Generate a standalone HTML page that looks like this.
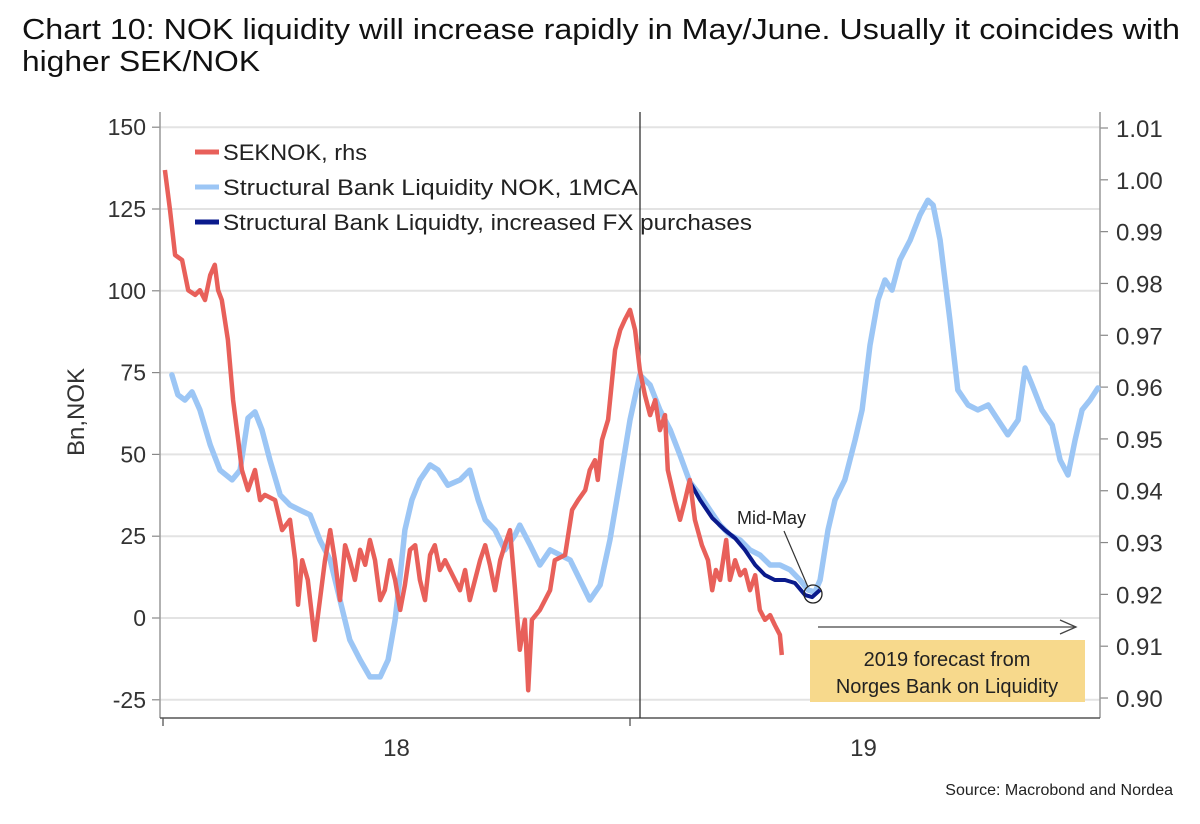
<!DOCTYPE html>
<html><head><meta charset="utf-8"><style>
html,body{margin:0;padding:0;background:#fff;}
svg{display:block;font-family:"Liberation Sans",sans-serif;}
</style></head><body>
<svg id="chart" width="1200" height="824" viewBox="0 0 1200 824" xmlns="http://www.w3.org/2000/svg">
<text x="22" y="39" font-size="29" fill="#111" textLength="1158" lengthAdjust="spacingAndGlyphs">Chart 10: NOK liquidity will increase rapidly in May/June. Usually it coincides with</text>
<text x="22" y="71" font-size="29" fill="#111" textLength="238" lengthAdjust="spacingAndGlyphs">higher SEK/NOK</text>
<g id="grid"></g>
<g id="axes"></g>
<g id="series"></g>
<text transform="translate(84,412) rotate(-90)" text-anchor="middle" font-size="24" fill="#333">Bn,NOK</text>
<g>
<line x1="195" y1="152" x2="219" y2="152" stroke="#e8605a" stroke-width="5"/>
<text x="223" y="160" font-size="22" fill="#222" textLength="144" lengthAdjust="spacingAndGlyphs">SEKNOK, rhs</text>
<line x1="195" y1="187" x2="219" y2="187" stroke="#9cc6f5" stroke-width="5"/>
<text x="223" y="195" font-size="22" fill="#222" textLength="415" lengthAdjust="spacingAndGlyphs">Structural Bank Liquidity NOK, 1MCA</text>
<line x1="195" y1="222" x2="219" y2="222" stroke="#0a1a8c" stroke-width="5"/>
<text x="223" y="230" font-size="22" fill="#222" textLength="529" lengthAdjust="spacingAndGlyphs">Structural Bank Liquidty, increased FX purchases</text>
</g>
<g>
<text x="737" y="524" font-size="18" fill="#222">Mid-May</text>
<line x1="784" y1="531" x2="808" y2="587" stroke="#333" stroke-width="1.2"/>
<circle cx="813" cy="594" r="9" fill="none" stroke="#222" stroke-width="1.3"/>
</g>
<g>
<line x1="818" y1="627" x2="1076" y2="627" stroke="#444" stroke-width="1.3"/>
<polyline points="1060,620 1076,627 1060,634" fill="none" stroke="#444" stroke-width="1.3"/>
<rect x="810" y="640" width="275" height="62" fill="#f7d98c"/>
<text x="947" y="666" text-anchor="middle" font-size="20" fill="#222">2019 forecast from</text>
<text x="947" y="693" text-anchor="middle" font-size="20" fill="#222">Norges Bank on Liquidity</text>
</g>
<text x="1173" y="795" text-anchor="end" font-size="16" fill="#222">Source: Macrobond and Nordea</text>
</svg>
<script>
const leftTicks = [150,125,100,75,50,25,0,-25];
const rightTicks = [1.01,1.00,0.99,0.98,0.97,0.96,0.95,0.94,0.93,0.92,0.91,0.90];
const yearLabels = ["18","19"];
const blueT = [.019,.032,.047,.062,.079,.101,.122,.148,.165,.182,.197,.212,.229,.251,.272,.293,.315,.336,.358,.379,.400,.422,.443,.465,.482,.497,.508,.518,.533,.550,.572,.589,.610,.636,.657,.675,.690,.711,.732,.754,.764,.786,.807,.829,.850,.872,.893,.914,.936,.957,.979,1.0,1.021,1.043,1.064,1.086,1.107,1.128,1.150,1.171,1.193,1.214,1.236,1.257,1.278,1.300,1.321,1.343,1.364,1.381,1.396,1.407,1.424,1.439,1.460,1.482,1.497,1.514,1.531,1.546,1.561,1.578,1.600,1.621,1.638,1.649,1.664,1.685,1.702,1.724,1.745,1.767,1.788,1.809,1.831,1.846,1.861,1.882,1.904,1.921,1.938,1.953,1.968,1.985,2.002];
const blueV = [74.3,68.2,66.6,69.1,63.6,52.9,45.2,42.2,45.2,61.1,63.0,57.5,48.3,37.6,34.5,33.0,31.5,23.8,17.7,5.5,-6.7,-12.8,-18.0,-18.0,-12.8,-0.6,13.1,26.9,36.1,42.2,46.8,45.2,40.6,42.2,45.2,36.1,30.0,26.9,20.8,25.4,28.4,22.3,16.2,20.8,19.3,17.7,11.6,5.5,10.1,23.8,42.2,60.5,74.3,71.2,63.6,57.5,49.8,41.6,37.6,33.0,28.4,25.4,23.8,20.8,19.3,16.2,16.2,14.7,11.6,8.6,7.9,11.6,26.9,36.1,42.2,54.4,63.6,83.4,97.2,103.3,100.2,109.4,115.5,123.2,127.7,126.2,115.5,91.1,69.7,65.1,63.6,65.1,60.5,56.0,60.5,76.4,71.2,63.6,59.0,48.3,43.7,54.4,63.6,66.6,70.3];
const redT = [.004,.015,.026,.041,.054,.069,.079,.090,.101,.111,.118,.126,.139,.150,.161,.169,.182,.197,.208,.218,.240,.255,.272,.283,.289,.298,.310,.325,.336,.347,.358,.368,.379,.390,.400,.411,.422,.433,.443,.454,.465,.475,.486,.497,.508,.518,.529,.540,.550,.561,.572,.582,.593,.604,.625,.636,.647,.657,.668,.679,.690,.700,.711,.722,.732,.743,.754,.764,.775,.782,.790,.807,.818,.829,.839,.861,.876,.889,.904,.914,.925,.931,.940,.953,.968,.979,.989,1.0,1.011,1.021,1.032,1.043,1.054,1.064,1.075,1.081,1.096,1.107,1.118,1.128,1.139,1.154,1.167,1.176,1.184,1.193,1.206,1.214,1.225,1.236,1.246,1.257,1.268,1.278,1.289,1.300,1.310,1.321,1.325];
const redV = [1.0019,.9942,.9855,.9845,.9787,.9778,.9787,.9768,.9816,.9836,.9787,.9768,.9691,.9575,.9498,.9440,.9401,.9440,.9382,.9392,.9382,.9324,.9344,.9266,.9180,.9266,.9228,.9112,.9189,.9266,.9324,.9266,.9189,.9295,.9266,.9228,.9286,.9257,.9305,.9266,.9189,.9208,.9266,.9228,.9170,.9218,.9286,.9295,.9228,.9189,.9276,.9295,.9247,.9266,.9228,.9208,.9247,.9189,.9228,.9266,.9295,.9257,.9208,.9266,.9295,.9324,.9208,.9093,.9151,.9015,.9151,.9170,.9189,.9208,.9266,.9276,.9363,.9382,.9401,.9440,.9459,.9421,.9498,.9537,.9672,.9710,.9730,.9749,.9710,.9633,.9585,.9546,.9575,.9517,.9546,.9440,.9382,.9344,.9382,.9421,.9344,.9295,.9266,.9208,.9247,.9228,.9305,.9228,.9266,.9237,.9247,.9208,.9237,.9170,.9151,.9160,.9141,.9122,.9083];
const darkT = [1.128,1.150,1.176,1.203,1.225,1.246,1.268,1.289,1.310,1.332,1.353,1.375,1.390,1.407];
const darkV = [41.6,36.1,30.6,26.9,24.4,20.8,16.2,13.1,11.6,11.6,10.7,7.0,6.4,8.6];

const NS = "http://www.w3.org/2000/svg";
const X0 = 163, PXYR = 467;
const xS = t => X0 + t * PXYR;
const yL = v => 618 - v * 3.272;
const yR = v => 128 + (1.01 - v) * 5182;
function mk(tag, attrs, parent){const e=document.createElementNS(NS,tag);for(const k in attrs)e.setAttribute(k,attrs[k]);parent.appendChild(e);return e;}
const grid=document.getElementById('grid'), axes=document.getElementById('axes'), series=document.getElementById('series');

leftTicks.forEach(v=>{
  const y=yL(v);
  const g=mk('line',{x1:160,x2:1100,y1:y,y2:y,stroke:'#e3e3e3','stroke-width':2},grid);
  
  
  const tk=mk('line',{x1:152,x2:160,y1:y,y2:y,stroke:'#888','stroke-width':1.2},axes);
  
  
  const tx=mk('text',{x:146,y:y+8,'text-anchor':'end','font-size':23,fill:'#333'},axes);
  tx.textContent=v;
  
  
});
rightTicks.forEach(v=>{
  const y=yR(v);
  const tk=mk('line',{x1:1100,x2:1108,y1:y,y2:y,stroke:'#888','stroke-width':1.2},axes);
  
  
  const tx=mk('text',{x:1116,y:y+9,'font-size':24,fill:'#333'},axes);
  tx.textContent=v.toFixed(2);
  
  
});
let a=mk('line',{x1:160,x2:160,y1:112,y2:718,stroke:'#999','stroke-width':1.5},axes);


a=mk('line',{x1:1100,x2:1100,y1:112,y2:718,stroke:'#999','stroke-width':1.5},axes);


a=mk('line',{x1:160,x2:1100,y1:718,y2:718,stroke:'#555','stroke-width':1.5},axes);


a=mk('line',{x1:640,x2:640,y1:112,y2:718,stroke:'#333','stroke-width':1.3},axes);


[0,1].forEach(t=>{
  const tk=mk('line',{x1:xS(t),x2:xS(t),y1:718,y2:726,stroke:'#555','stroke-width':1.3},axes);
  
  
});
yearLabels.forEach((lab,i)=>{
  const tx=mk('text',{x:xS(i+0.5),y:756,'text-anchor':'middle','font-size':24,fill:'#333'},axes);
  tx.textContent=lab;
  
  
});
function path(ts,vs,ys){return ts.map((t,i)=>(i?'L':'M')+xS(t).toFixed(1)+','+ys(vs[i]).toFixed(1)).join('');}
let p=mk('path',{d:path(blueT,blueV,yL),fill:'none',stroke:'#9cc6f5','stroke-width':5.5,'stroke-linejoin':'round','stroke-linecap':'round'},series);


p=mk('path',{d:path(darkT,darkV,yL),fill:'none',stroke:'#0a1a8c','stroke-width':4,'stroke-linejoin':'round'},series);


p=mk('path',{d:path(redT,redV,yR),fill:'none',stroke:'#e8605a','stroke-width':4.5,'stroke-linejoin':'round'},series);


</script>
</body></html>
